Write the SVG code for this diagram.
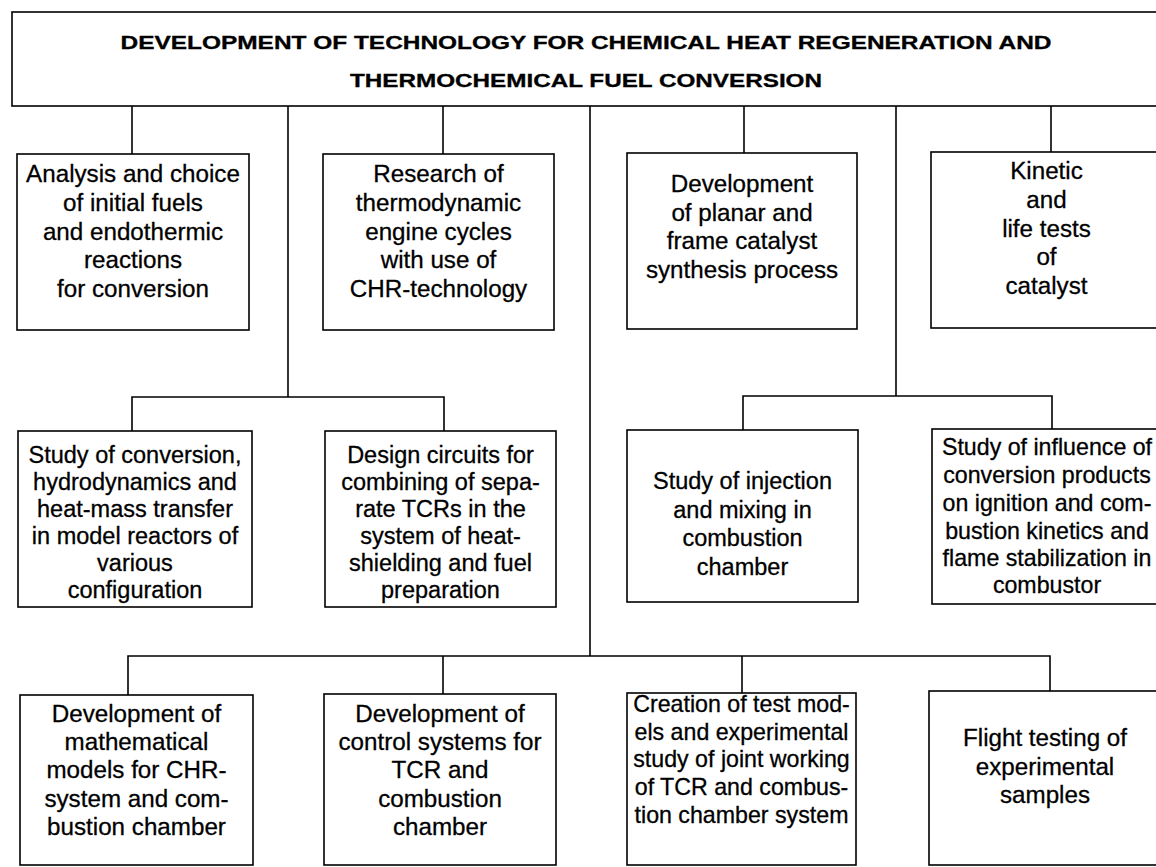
<svg xmlns="http://www.w3.org/2000/svg" width="1156" height="867" viewBox="0 0 1156 867">
  <style>
    .box { fill: #ffffff; stroke: #000000; stroke-width: 1.6; }
    .wire { fill: none; stroke: #000000; stroke-width: 1.6; }
    .title { font-family: "Liberation Sans", Arial, sans-serif; font-weight: bold; font-size: 18px; fill: #000000; stroke: #000000; stroke-width: 0.3; text-anchor: middle; }
    .lbl { font-family: "Liberation Sans", Arial, sans-serif; font-size: 23.5px; fill: #000000; stroke: #000000; stroke-width: 0.3; text-anchor: middle; }
    .big { font-size: 24.2px; }
    .dense { font-size: 23.2px; }
  </style>
  <rect width="1156" height="867" fill="#ffffff"/>

  <!-- connectors -->
  <g id="connectors" class="wire">
    <!-- drops from the root box -->
    <line x1="132" y1="106" x2="132" y2="154"/>
    <line x1="443" y1="106" x2="443" y2="154"/>
    <line x1="744" y1="106" x2="744" y2="153"/>
    <line x1="1051" y1="106" x2="1051" y2="152"/>
    <!-- left trunk to second row -->
    <line x1="288" y1="106" x2="288" y2="397"/>
    <polyline points="132,431 132,397 444,397 444,431"/>
    <!-- right trunk to second row -->
    <line x1="896" y1="106" x2="896" y2="396"/>
    <polyline points="743,430 743,396 1052,396 1052,429"/>
    <!-- central trunk to bottom row -->
    <line x1="590" y1="106" x2="590" y2="656"/>
    <polyline points="128,695 128,656 1050,656 1050,691"/>
    <line x1="443" y1="656" x2="443" y2="694"/>
    <line x1="742" y1="656" x2="742" y2="693"/>
  </g>

  <!-- root -->
  <g id="root">
    <rect class="box" x="12" y="12" width="1150" height="94"/>
    <text class="title" x="586" y="49" textLength="931" lengthAdjust="spacingAndGlyphs">DEVELOPMENT OF TECHNOLOGY FOR CHEMICAL HEAT REGENERATION AND</text>
    <text class="title" x="586" y="87" textLength="472" lengthAdjust="spacingAndGlyphs">THERMOCHEMICAL FUEL CONVERSION</text>
  </g>

  <!-- first row -->
  <g id="fuels" class="lbl big">
    <rect class="box" x="17" y="154" width="232" height="176"/>
    <text x="133" y="182">Analysis and choice</text>
    <text x="133" y="211">of initial fuels</text>
    <text x="133" y="240">and endothermic</text>
    <text x="133" y="268">reactions</text>
    <text x="133" y="297">for conversion</text>
  </g>
  <g id="cycles" class="lbl big">
    <rect class="box" x="323" y="154" width="231" height="176"/>
    <text x="438.5" y="182">Research of</text>
    <text x="438.5" y="211">thermodynamic</text>
    <text x="438.5" y="240">engine cycles</text>
    <text x="438.5" y="268">with use of</text>
    <text x="438.5" y="297">CHR-technology</text>
  </g>
  <g id="catalyst-synthesis" class="lbl big">
    <rect class="box" x="627" y="153" width="230" height="176"/>
    <text x="742" y="192">Development</text>
    <text x="742" y="221">of planar and</text>
    <text x="742" y="249">frame catalyst</text>
    <text x="742" y="278">synthesis process</text>
  </g>
  <g id="catalyst-tests" class="lbl big">
    <rect class="box" x="931" y="152" width="231" height="176"/>
    <text x="1046.5" y="179">Kinetic</text>
    <text x="1046.5" y="208">and</text>
    <text x="1046.5" y="237">life tests</text>
    <text x="1046.5" y="265">of</text>
    <text x="1046.5" y="294">catalyst</text>
  </g>

  <!-- second row -->
  <g id="model-reactors" class="lbl">
    <rect class="box" x="18" y="431" width="234" height="176"/>
    <text x="135" y="463">Study of conversion,</text>
    <text x="135" y="490">hydrodynamics and</text>
    <text x="135" y="517">heat-mass transfer</text>
    <text x="135" y="544">in model reactors of</text>
    <text x="135" y="571">various</text>
    <text x="135" y="598">configuration</text>
  </g>
  <g id="design-circuits" class="lbl">
    <rect class="box" x="325" y="431" width="231" height="176"/>
    <text x="440.5" y="463">Design circuits for</text>
    <text x="440.5" y="490">combining of sepa-</text>
    <text x="440.5" y="517">rate TCRs in the</text>
    <text x="440.5" y="544">system of heat-</text>
    <text x="440.5" y="571">shielding and fuel</text>
    <text x="440.5" y="598">preparation</text>
  </g>
  <g id="injection" class="lbl">
    <rect class="box" x="627" y="430" width="231" height="172"/>
    <text x="742.5" y="489">Study of injection</text>
    <text x="742.5" y="518">and mixing in</text>
    <text x="742.5" y="546">combustion</text>
    <text x="742.5" y="575">chamber</text>
  </g>
  <g id="ignition" class="lbl dense">
    <rect class="box" x="932" y="429" width="230" height="175"/>
    <text x="1047" y="455">Study of influence of</text>
    <text x="1047" y="483">conversion products</text>
    <text x="1047" y="511">on ignition and com-</text>
    <text x="1047" y="539">bustion kinetics and</text>
    <text x="1047" y="566">flame stabilization in</text>
    <text x="1047" y="593">combustor</text>
  </g>

  <!-- third row -->
  <g id="math-models" class="lbl big">
    <rect class="box" x="20" y="695" width="233" height="170"/>
    <text x="136.5" y="722">Development of</text>
    <text x="136.5" y="750">mathematical</text>
    <text x="136.5" y="778">models for CHR-</text>
    <text x="136.5" y="807">system and com-</text>
    <text x="136.5" y="835">bustion chamber</text>
  </g>
  <g id="control-systems" class="lbl big">
    <rect class="box" x="324" y="694" width="232" height="171"/>
    <text x="440" y="722">Development of</text>
    <text x="440" y="750">control systems for</text>
    <text x="440" y="778">TCR and</text>
    <text x="440" y="807">combustion</text>
    <text x="440" y="835">chamber</text>
  </g>
  <g id="test-models" class="lbl dense">
    <rect class="box" x="627" y="693" width="229" height="172"/>
    <text x="741.5" y="712">Creation of test mod-</text>
    <text x="741.5" y="740">els and experimental</text>
    <text x="741.5" y="767">study of joint working</text>
    <text x="741.5" y="795">of TCR and combus-</text>
    <text x="741.5" y="823">tion chamber system</text>
  </g>
  <g id="flight-testing" class="lbl big">
    <rect class="box" x="929" y="691" width="233" height="174"/>
    <text x="1045" y="746">Flight testing of</text>
    <text x="1045" y="775">experimental</text>
    <text x="1045" y="803">samples</text>
  </g>
</svg>
